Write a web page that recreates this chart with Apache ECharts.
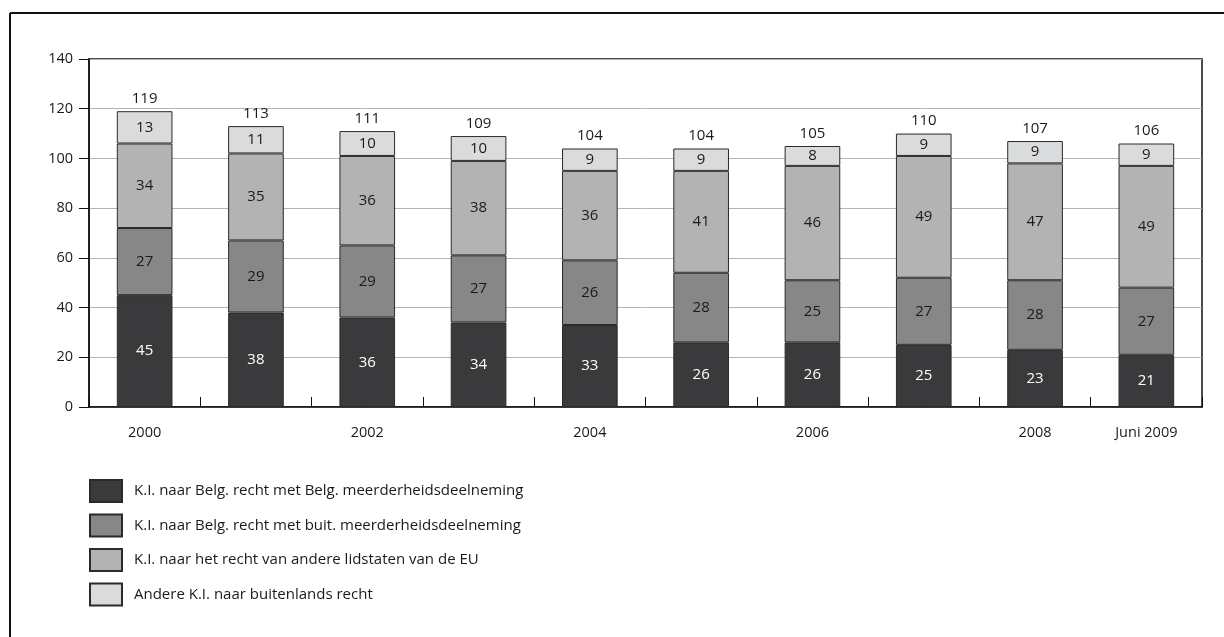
<!DOCTYPE html>
<html><head><meta charset="utf-8">
<script src="https://cdn.jsdelivr.net/npm/echarts@6/dist/echarts.min.js"></script>
<style>html,body{margin:0;padding:0;background:#fff}#c{width:1224px;height:637px}</style>
</head><body><div id="c"></div>
<script>
const categories = ['2000','2001','2002','2003','2004','2005','2006','2007','2008','Juni 2009'];
const shownLabels = [0,2,4,6,8,9];
const yTicks = {min:0, max:140, interval:20};
const seriesNames = [
  'K.I. naar Belg. recht met Belg. meerderheidsdeelneming',
  'K.I. naar Belg. recht met buit. meerderheidsdeelneming',
  'K.I. naar het recht van andere lidstaten van de EU',
  'Andere K.I. naar buitenlands recht'
];
const belgBelg = [45,38,36,34,33,26,26,25,23,21];
const belgBuit = [27,29,29,27,26,28,25,27,28,27];
const andereEU = [34,35,36,38,36,41,46,49,47,49];
const buitenlands = [13,11,10,10,9,9,8,9,9,9];
const totals = [119,113,111,109,104,104,105,110,107,106];

const colors = ['#3a3a3c','#878787','#b3b3b3','#dadbdc'];
const labelColors = ['#ffffff','#1a1a1a','#1a1a1a','#1a1a1a'];
const dataSets = [belgBelg, belgBuit, andereEU, buitenlands];
const font = '"Open Sans", "Noto Sans", sans-serif';
const fs = 15;

const series = dataSets.map((d,i)=>({
  name: seriesNames[i], type:'bar', stack:'t', data:d, barWidth:'50%',
  itemStyle:{color:colors[i], borderColor:'#2a2a2a', borderWidth:1},
  label:{show:true, position:'inside', color:labelColors[i], fontSize:fs, fontFamily:font},
  emphasis:{disabled:true}
}));
series.push({
  name:'totaal', type:'bar', stack:'t', data:totals.map(()=>0), barWidth:'50%',
  itemStyle:{color:'transparent'},
  label:{show:true, position:'top', distance:5, color:'#1a1a1a', fontSize:fs, fontFamily:font,
    formatter:p=>totals[p.dataIndex]}
});

const chart = echarts.init(document.getElementById('c'));
chart.setOption({
  animation:false,
  textStyle:{fontFamily:font},
  graphic:[
    {type:'line', shape:{x1:10,y1:13,x2:1224,y2:13}, style:{stroke:'#111',lineWidth:2}},
    {type:'line', shape:{x1:10,y1:13,x2:10,y2:637}, style:{stroke:'#111',lineWidth:2}}
  ],
  grid:{left:89, right:22, top:59, bottom:230, show:true, borderColor:'#111', borderWidth:1.5, backgroundColor:'transparent'},
  legend:{
    data:seriesNames, orient:'vertical', left:89, top:479, padding:0, itemWidth:32, itemHeight:22, itemGap:10.5,
    icon:'rect', textStyle:{fontSize:15, color:'#1a1a1a', fontFamily:font, padding:[0,0,0,7]},
    selectedMode:false
  },
  xAxis:{
    type:'category', data:categories,
    axisLine:{lineStyle:{color:'#111', width:1.5}},
    axisTick:{show:true, inside:true, length:10, interval:0, lineStyle:{color:'#111'}},
    axisLabel:{interval:(idx)=>shownLabels.includes(idx), color:'#1a1a1a', fontSize:14.5, margin:18, fontFamily:font}
  },
  yAxis:{
    type:'value', min:yTicks.min, max:yTicks.max, interval:yTicks.interval,
    axisLine:{show:true, lineStyle:{color:'#111', width:1.5}},
    axisTick:{show:true, length:10, lineStyle:{color:'#111'}},
    axisLabel:{color:'#1a1a1a', fontSize:14.5, margin:16, fontFamily:font},
    splitLine:{show:true, lineStyle:{color:'#b4b4b4', width:1}}
  },
  series
});
</script></body></html>
